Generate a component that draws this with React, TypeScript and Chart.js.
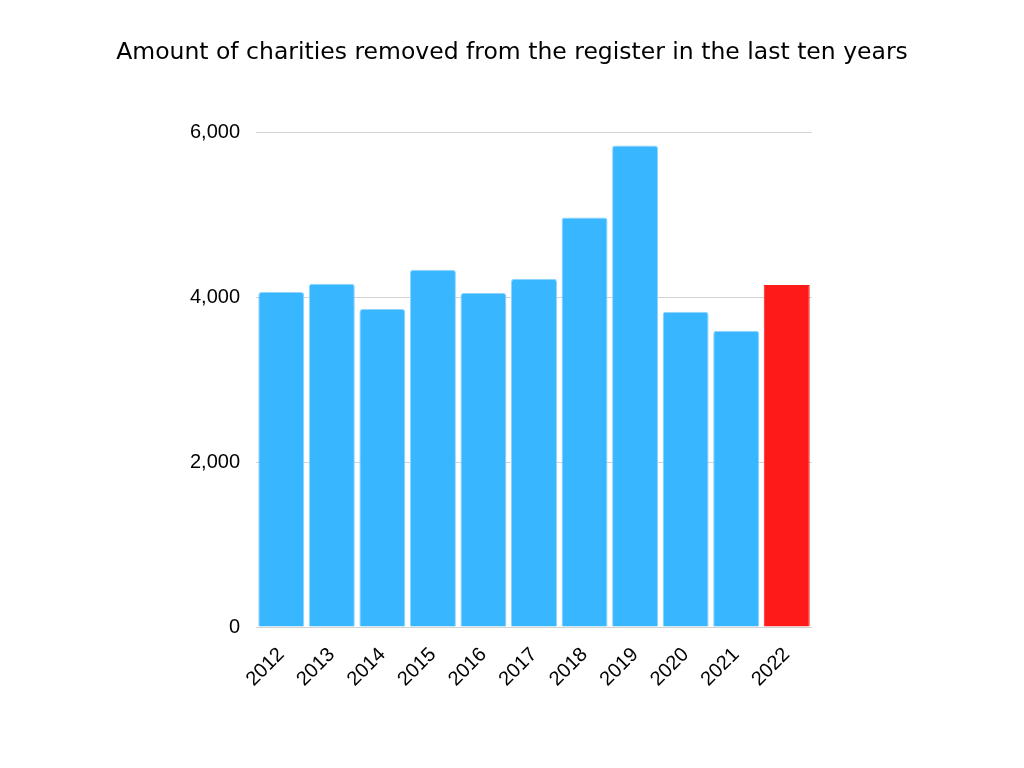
import React, { useEffect, useRef } from "react";
import { Chart, registerables } from "chart.js";

Chart.register(...registerables);

const years = ["2012", "2013", "2014", "2015", "2016", "2017", "2018", "2019", "2020", "2021", "2022"];
const removed = [4060, 4160, 3855, 4330, 4050, 4220, 4965, 5835, 3820, 3590, 4145];
const barColors = ["#38B6FF", "#38B6FF", "#38B6FF", "#38B6FF", "#38B6FF", "#38B6FF", "#38B6FF", "#38B6FF", "#38B6FF", "#38B6FF", "#FF1A1A"];
const titleText = "Amount of charities removed from the register in the last ten years";

export default function App() {
  const ref = useRef<HTMLCanvasElement>(null);
  useEffect(() => {
    if (!ref.current) return;
    const chart = new Chart(ref.current, {
      type: "bar",
      data: {
        labels: years,
        datasets: [
          {
            data: removed,
            backgroundColor: barColors,
            borderColor: barColors.map((c) => (c === "#FF1A1A" ? "#FF1A1A" : "#8FD4FF")),
            borderWidth: 1,
            borderRadius: (ctx: any) => (ctx.dataIndex === 10 ? 0 : 3),
            borderSkipped: "start",
            barPercentage: 0.91,
            categoryPercentage: 1,
          },
        ],
      },
      options: {
        responsive: false,
        animation: false,
        layout: { padding: { top: 39, right: 0, bottom: 0, left: 0 } },
        plugins: {
          legend: { display: false },
          tooltip: { enabled: false },
          title: {
            display: true,
            text: titleText,
            color: "#000",
            font: { family: "DejaVu Sans", size: 23.5, weight: "normal", lineHeight: 1.2 },
            padding: { top: 0, bottom: 64.8 },
          },
        },
        scales: {
          x: {
            grid: { display: false },
            border: { display: false },
            ticks: {
              color: "#000",
              font: { family: "Liberation Sans", size: 20 },
              maxRotation: 45,
              minRotation: 45,
              padding: 8,
            },
            afterFit: (s: any) => {
              s.height = 141;
            },
          },
          y: {
            min: 0,
            max: 6000,
            ticks: {
              stepSize: 2000,
              color: "#000",
              font: { family: "Liberation Sans", size: 20 },
              padding: 16,
            },
            grid: { color: "#D3D3D3", drawTicks: false, lineWidth: 1 },
            border: { display: false },
            afterFit: (s: any) => {
              s.width = 256;
            },
          },
          yRight: {
            position: "right",
            display: true,
            grid: { display: false, drawTicks: false },
            ticks: { display: false },
            border: { display: false },
            afterFit: (s: any) => {
              s.width = 212;
            },
          },
        },
      },
    });
    return () => chart.destroy();
  }, []);
  return (
    <div style={{ position: "fixed", left: 0, top: 0, width: 1024, height: 768, background: "#fff" }}>
      <canvas ref={ref} width={1024} height={768} />
    </div>
  );
}
